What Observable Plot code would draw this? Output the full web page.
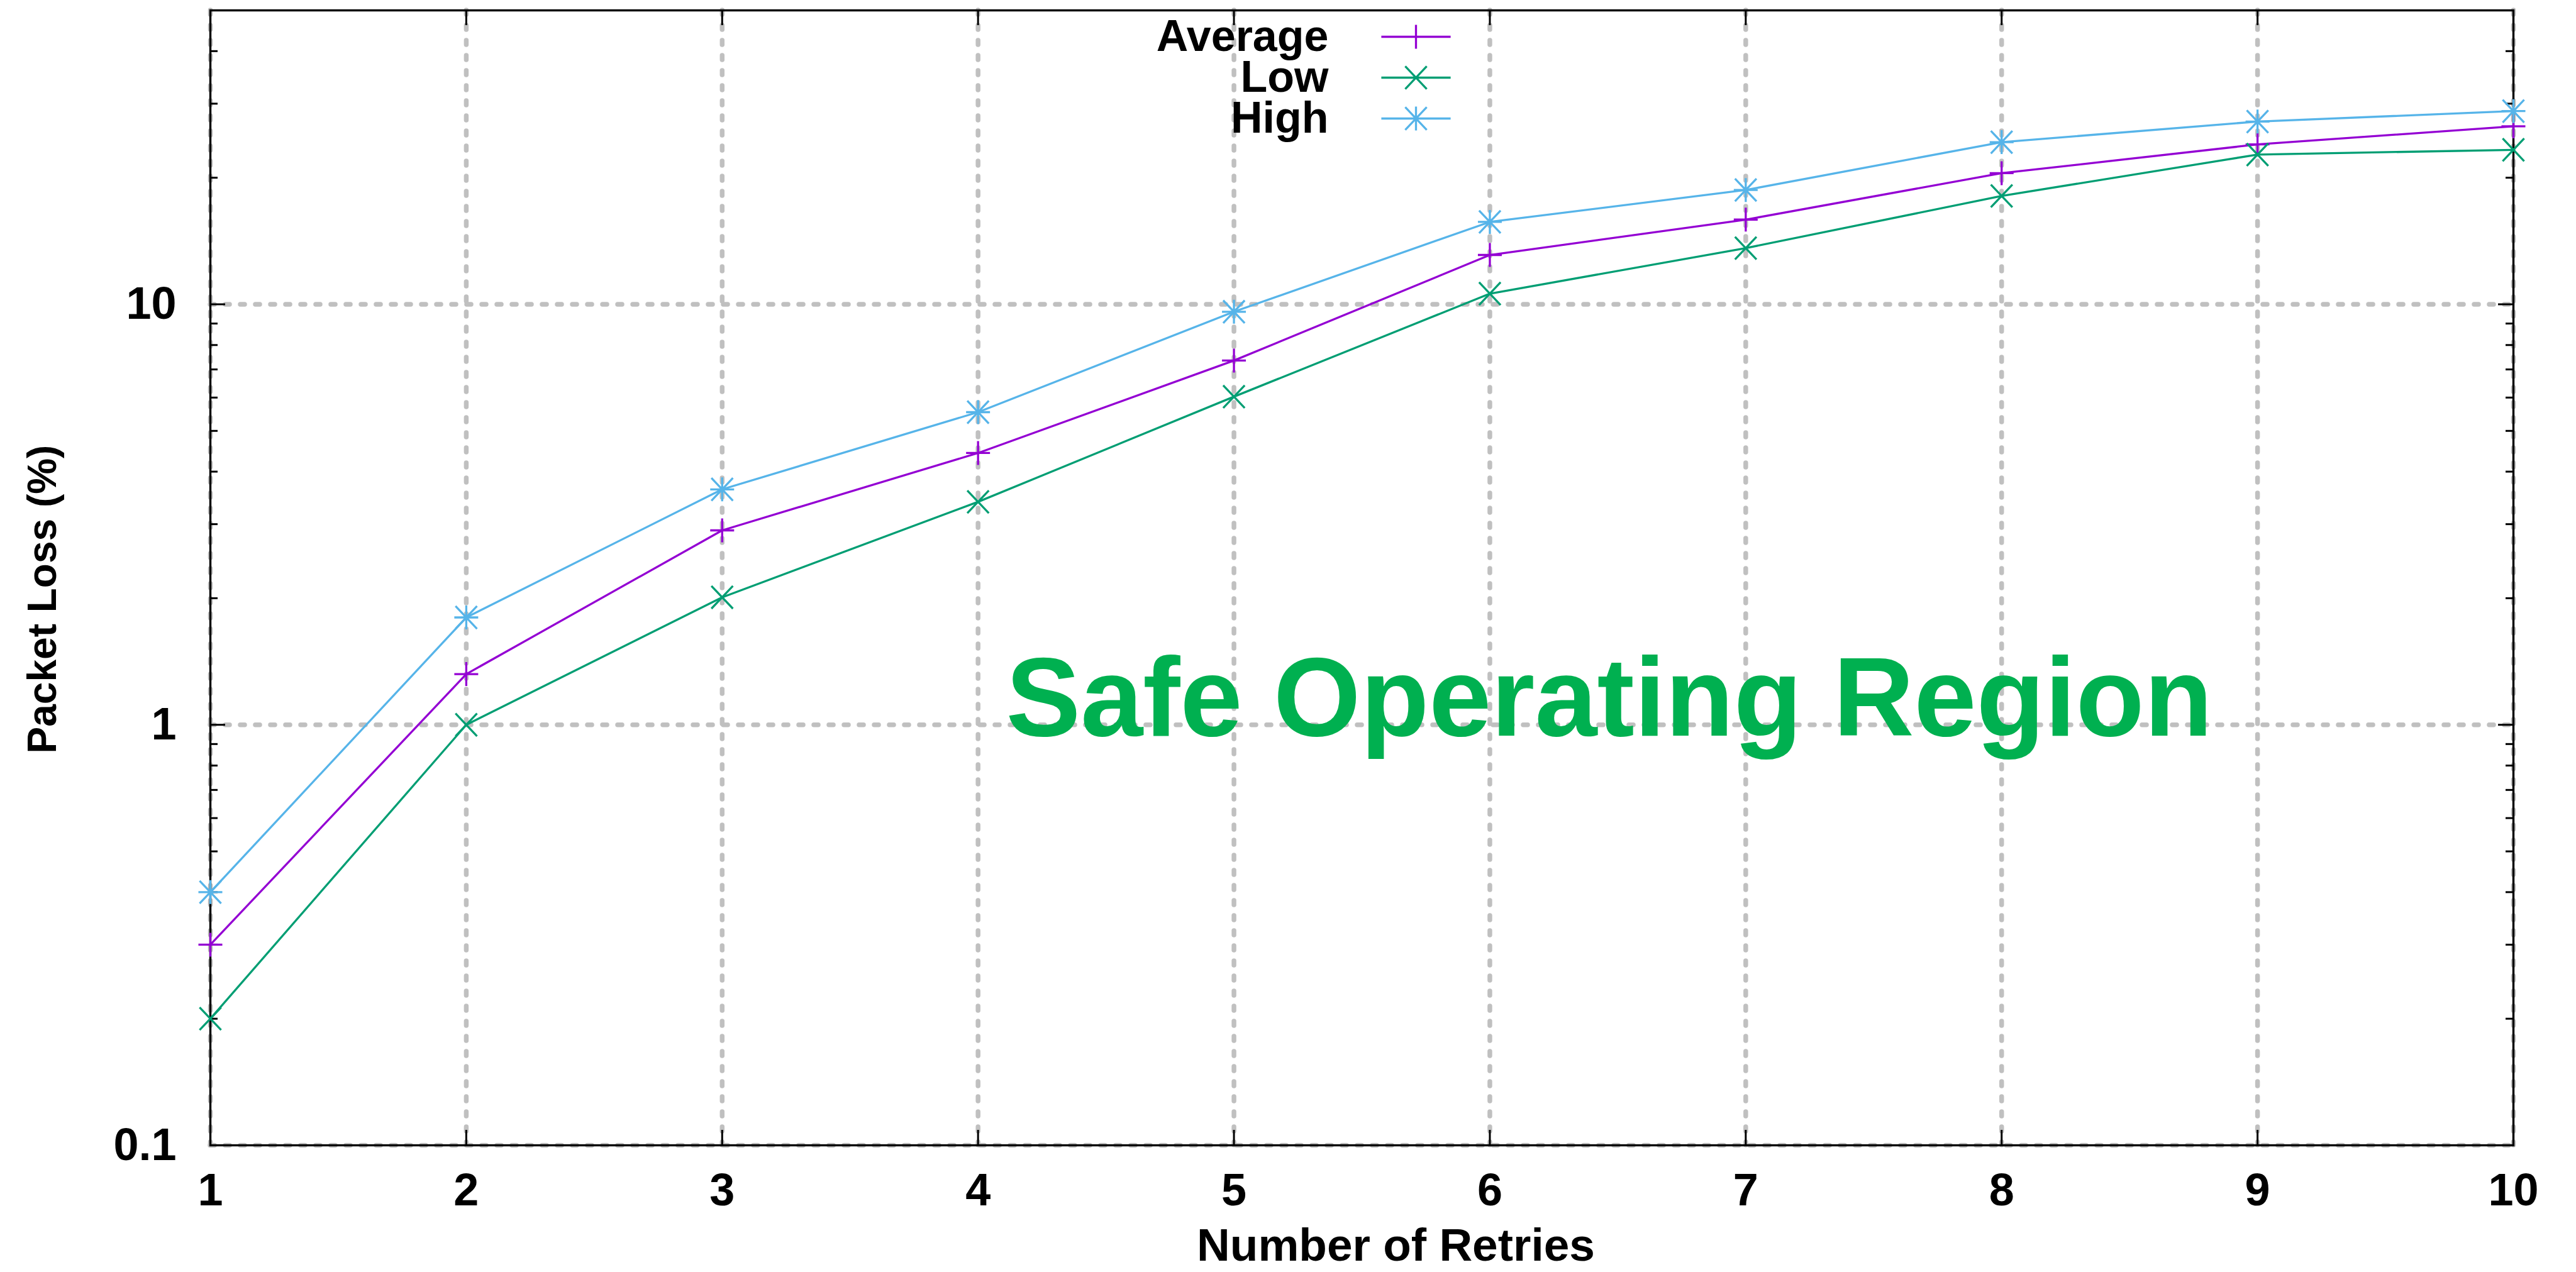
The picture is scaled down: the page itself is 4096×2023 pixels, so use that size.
<!DOCTYPE html>
<html><head><meta charset="utf-8">
<script src="https://cdn.jsdelivr.net/npm/d3@7"></script>
<script src="https://cdn.jsdelivr.net/npm/@observablehq/plot@0.6"></script>
<style>html,body{margin:0;padding:0;background:#fff;overflow:hidden}</style>
</head><body><div id="chart"></div>
<script>
// ---- data ----
const retries = [1, 2, 3, 4, 5, 6, 7, 8, 9, 10];
const seriesNames = ["Average", "Low", "High"];
const average = [0.30, 1.32, 2.90, 4.43, 7.35, 13.1, 15.9, 20.5, 24.0, 26.5];
const low     = [0.20, 1.00, 2.01, 3.39, 6.03, 10.6, 13.6, 18.1, 22.7, 23.3];
const high    = [0.40, 1.80, 3.63, 5.54, 9.60, 15.7, 18.7, 24.3, 27.2, 28.8];
const xTicks = [1, 2, 3, 4, 5, 6, 7, 8, 9, 10];
const yMajorTicks = [0.1, 1, 10];
const yTickLabels = ["0.1", "1", "10"];
const yMinorTicks = [0.2, 0.3, 0.4, 0.5, 0.6, 0.7, 0.8, 0.9, 2, 3, 4, 5, 6, 7, 8, 9, 20, 30, 40];
const xLabel = "Number of Retries";
const yLabel = "Packet Loss (%)";
const annotation = "Safe Operating Region";

// ---- layout / style ----
const W = 4096, H = 2023, mL = 334, mR = 100, mT = 16, mB = 202;
const FW = W - mL - mR, FH = H - mT - mB;
const colors = ["#9400D3", "#009E73", "#56B4E9"];
const values = [average, low, high];
const table = [];
seriesNames.forEach((s, k) => retries.forEach((x, i) => table.push({x, value: values[k][i], series: s})));

function radius(size) { return Math.sqrt(size / Math.PI); }
const plusSym = {draw(c, size) { const r = radius(size); c.moveTo(-r, 0); c.lineTo(r, 0); c.moveTo(0, -r); c.lineTo(0, r); }};
const timesSym = {draw(c, size) { const r = radius(size), h = 0.9 * r, v = 0.95 * r; c.moveTo(-h, -v); c.lineTo(h, v); c.moveTo(-h, v); c.lineTo(h, -v); }};
const starSym = {draw(c, size) { plusSym.draw(c, size); timesSym.draw(c, size); }};
const symbols = [plusSym, timesSym, starSym];
function withLine(marker, half) {
  return {draw(c, size) { const r = radius(size); c.moveTo(-half * r, 0); c.lineTo(half * r, 0); marker.draw(c, size); }};
}

const grid = {stroke: "#c0c0c0", strokeWidth: 7.5, strokeDasharray: "7,17", strokeLinecap: "round"};
const tick = {stroke: "black", strokeWidth: 3};

const marks = [
  Plot.ruleX(xTicks, {x: d => d, ...grid}),
  Plot.ruleY(yMajorTicks, {y: d => d, ...grid}),
  Plot.frame({stroke: "black", strokeWidth: 3.4}),
  Plot.ruleX(xTicks, {x: d => d, insetTop: FH - 24, ...tick}),
  Plot.ruleX(xTicks, {x: d => d, insetBottom: FH - 24, ...tick}),
  Plot.ruleY(yMajorTicks, {y: d => d, insetRight: FW - 24, ...tick}),
  Plot.ruleY(yMajorTicks, {y: d => d, insetLeft: FW - 24, ...tick}),
  Plot.ruleY(yMinorTicks, {y: d => d, insetRight: FW - 12, ...tick}),
  Plot.ruleY(yMinorTicks, {y: d => d, insetLeft: FW - 12, ...tick}),
  Plot.axisX(xTicks, {anchor: "bottom", tickSize: 0, tickPadding: 44, label: null, tickFormat: d => String(d)}),
  Plot.axisY(yMajorTicks, {anchor: "left", tickSize: 0, tickPadding: 54, label: null, tickFormat: d => yTickLabels[yMajorTicks.indexOf(d)]}),
  Plot.line(table, {x: "x", y: "value", z: "series", stroke: "series", strokeWidth: 3.3}),
];
seriesNames.forEach((s, k) => {
  marks.push(Plot.dot(table.filter(d => d.series === s), {x: "x", y: "value", symbol: symbols[k], r: 19, fill: "none", stroke: colors[k], strokeWidth: 3.3}));
  marks.push(Plot.text([s], {frameAnchor: "top-left", dx: 1778, dy: 42 + 65 * k, textAnchor: "end", lineAnchor: "middle", fontSize: 70}));
  marks.push(Plot.dot([s], {frameAnchor: "top-left", dx: 1917, dy: 42 + 65 * k, symbol: withLine(symbols[k], 2.9), r: 19, fill: "none", stroke: colors[k], strokeWidth: 3.3}));
});
marks.push(Plot.text([annotation], {frameAnchor: "top-left", dx: 1265, dy: 1097, textAnchor: "start", lineAnchor: "middle", fill: "#00B050", fontSize: 178, fontWeight: "bold"}));
marks.push(Plot.text([xLabel], {frameAnchor: "bottom", dx: 54, dy: 160, lineAnchor: "middle", fontSize: 73}));
marks.push(Plot.text([yLabel], {frameAnchor: "left", dx: -266, dy: 34, rotate: -90, lineAnchor: "middle", textAnchor: "middle", fontSize: 64}));

const chart = Plot.plot({
  width: W, height: H,
  marginLeft: mL, marginRight: mR, marginTop: mT, marginBottom: mB,
  x: {domain: [1, 10]},
  y: {type: "log", domain: [0.1, 50]},
  color: {domain: seriesNames, range: colors},
  style: {fontFamily: "'Liberation Sans', Arial, sans-serif", fontSize: "72px", fontWeight: "bold", background: "white", color: "black"},
  marks
});
document.getElementById("chart").appendChild(chart);
</script>
</body></html>
